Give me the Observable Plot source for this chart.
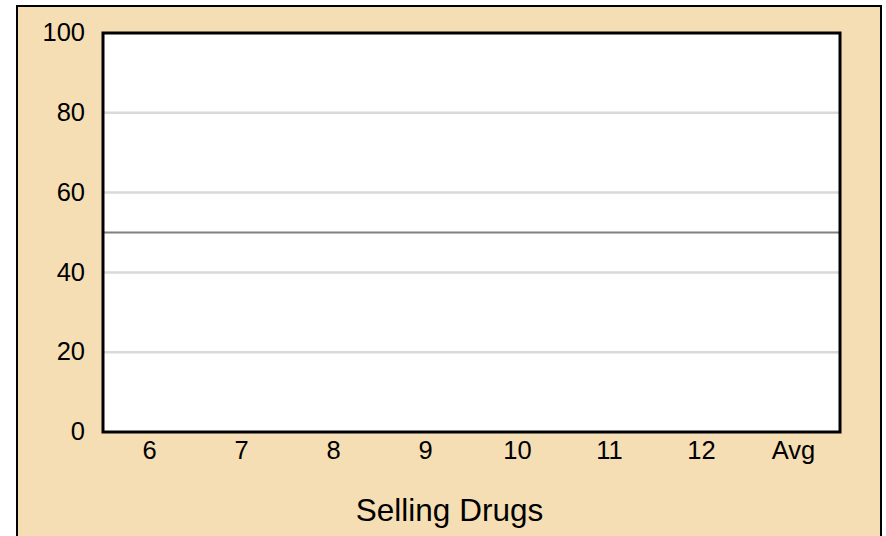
<!DOCTYPE html>
<html>
<head>
<meta charset="utf-8">
<script src="https://cdn.jsdelivr.net/npm/d3@7"></script>
<script src="https://cdn.jsdelivr.net/npm/@observablehq/plot@0.6"></script>
<style>
  html, body { margin: 0; padding: 0; background: #ffffff; overflow: hidden; }
  #wrap { position: relative; width: 886px; height: 536px; }
  #panel { position: absolute; left: 16px; top: 5px; width: 866px; height: 560px;
           box-sizing: border-box; background: #F5DEB3; border: 2px solid #000; }
  #chart { position: absolute; left: 0; top: 0; }
  #chart svg { background: transparent; overflow: visible; }
</style>
</head>
<body>
<div id="wrap"><div id="panel"></div><div id="chart"></div></div>
<script>
const categories = ["6", "7", "8", "9", "10", "11", "12", "Avg"];
const values = [0, 0, 0, 0, 0, 0, 0, 0];
const yTicks = [0, 20, 40, 60, 80, 100];
const gridLines = [20, 40, 60, 80];
const referenceValue = [50];
const title = "Selling Drugs";

const data = categories.map((c, i) => ({category: c, value: values[i]}));
const font = "Arial, 'Liberation Sans', sans-serif";

const chart = Plot.plot({
  width: 886,
  height: 536,
  marginLeft: 102.5,
  marginRight: 46.5,
  marginTop: 32.5,
  marginBottom: 104.5,
  style: {background: "transparent", fontFamily: font, color: "#000"},
  x: {domain: categories, padding: 0},
  y: {domain: [0, 100]},
  marks: [
    Plot.frame({fill: "#ffffff", stroke: "none"}),
    Plot.ruleY(gridLines, {stroke: "#d9d9d9", strokeWidth: 2.5}),
    Plot.ruleY(referenceValue, {stroke: "#808080", strokeWidth: 2}),
    Plot.barY(data, {x: "category", y: "value", fill: "#4472c4", inset: 18}),
    Plot.frame({stroke: "#000", strokeWidth: 3}),
    Plot.axisY({ticks: yTicks, tickSize: 0, tickPadding: 18, fontSize: 25.5, label: null}),
    Plot.axisX({tickSize: 0, tickPadding: 9, fontSize: 25.5, label: null}),
    Plot.text([title], {frameAnchor: "bottom", dy: 89, dx: -22, fontSize: 31.5, fill: "#000"})
  ]
});
document.getElementById("chart").appendChild(chart);
</script>
</body>
</html>
